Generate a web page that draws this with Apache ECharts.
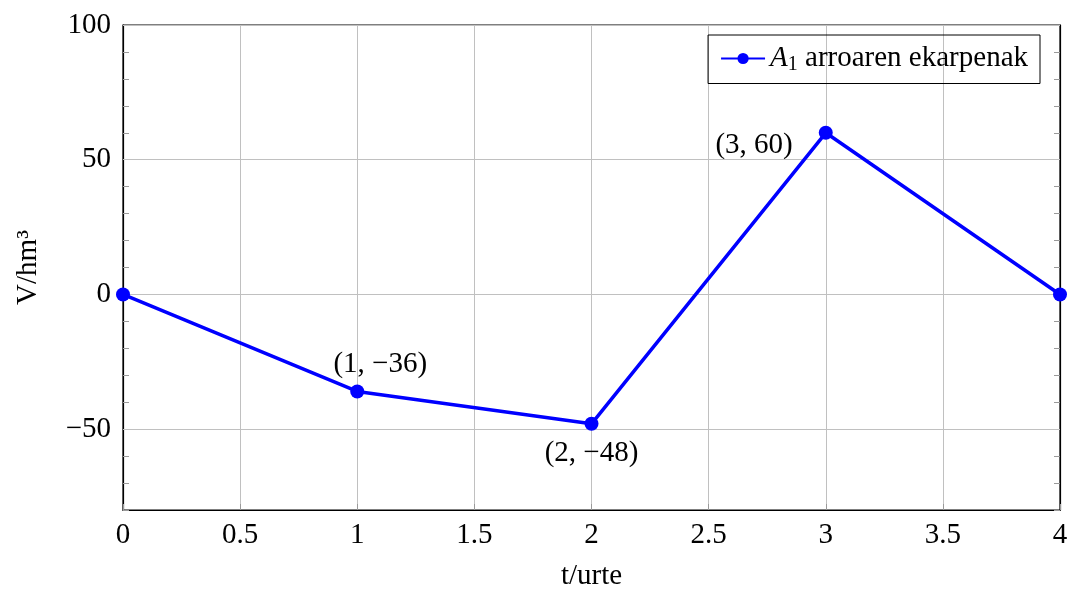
<!DOCTYPE html>
<html><head><meta charset="utf-8">
<script src="https://cdn.jsdelivr.net/npm/echarts@6/dist/echarts.min.js"></script>
<style>html,body{margin:0;padding:0;background:#fff}#c{width:1068px;height:591px}</style>
</head><body><div id="c"></div>
<script>
const tValues = [0, 1, 2, 3, 4];
const vValues = [0, -36, -48, 60, 0];
const yMajorTicks = [-50, 0, 50, 100];
const seriesName = 'A1 arroaren ekarpenak';
const xAxisName = 't/urte';
const yAxisName = 'V/hm³';

const FONT = 'Liberation Serif';
const FS = 29;
const minus = v => (v < 0 ? '−' + Math.abs(v) : String(v));
const labelCfg = {
  1: { position: 'top', offset: [23, 2] },
  2: { position: 'bottom', offset: [0, 0] },
  3: { position: 'left', offset: [-18, 13] }
};
const data = tValues.map((t, i) => {
  const d = { value: [t, vValues[i]] };
  if (labelCfg[i]) {
    d.label = Object.assign({ show: true, formatter: '(' + t + ', ' + minus(vValues[i]) + ')',
      fontFamily: FONT, fontSize: FS, color: '#000', distance: 8 }, labelCfg[i]);
  }
  return d;
});

const chart = echarts.init(document.getElementById('c'));
const tickStyle = { color: '#9a9a9a', width: 1 };
const axisFrame = { show: true, onZero: false, lineStyle: { color: '#000', width: 1.2 } };
chart.setOption({
  animation: false,
  textStyle: { fontFamily: FONT },
  grid: { left: 123, right: 8, top: 25, bottom: 81, show: true, borderColor: '#000', borderWidth: 1.2,
    containLabel: false, outerBoundsMode: 'none' },
  legend: {
    right: 28, top: 35, orient: 'horizontal',
    borderColor: '#000', borderWidth: 1, padding: [9, 12, 9, 12],
    itemWidth: 44, itemHeight: 14, itemGap: 8,
    formatter: () => '{a|A}{s|1} arroaren ekarpenak',
    textStyle: {
      fontFamily: FONT, fontSize: FS, color: '#000',
      rich: {
        a: { fontFamily: FONT, fontSize: FS, fontStyle: 'italic', color: '#000' },
        s: { fontFamily: FONT, fontSize: 20, color: '#000', padding: [12, 0, 0, 0] }
      }
    },
    data: [seriesName]
  },
  xAxis: {
    type: 'value', min: 0, max: 4, interval: 0.5,
    name: xAxisName, nameLocation: 'middle', nameGap: 52,
    nameTextStyle: { fontFamily: FONT, fontSize: FS, color: '#000' },
    axisLine: axisFrame,
    axisTick: { show: true, inside: true, length: 6, lineStyle: tickStyle },
    axisLabel: { fontFamily: FONT, fontSize: FS, color: '#000', margin: 11 },
    splitLine: { show: true, lineStyle: { color: '#c0c0c0', width: 1 } }
  },
  yAxis: [{
    type: 'value', min: -80, max: 100, interval: 10,
    name: yAxisName, nameLocation: 'middle', nameGap: 80, nameRotate: 90,
    nameTextStyle: { fontFamily: FONT, fontSize: FS, color: '#000' },
    axisLine: axisFrame,
    axisTick: { show: true, inside: true, length: 6, lineStyle: tickStyle },
    axisLabel: { fontFamily: FONT, fontSize: FS, color: '#000', margin: 12,
      formatter: v => (yMajorTicks.indexOf(v) >= 0 ? minus(v) : '') },
    splitLine: { show: false }
  }, {
    type: 'value', min: -80, max: 100, interval: 10, position: 'right',
    axisLine: axisFrame,
    axisTick: { show: true, inside: true, length: 6, lineStyle: tickStyle },
    axisLabel: { show: false },
    splitLine: { show: false }
  }],
  series: [{
    name: 'grid', type: 'line', data: [], z: 1, silent: true,
    markLine: {
      silent: true, symbol: 'none', animation: false,
      label: { show: false },
      lineStyle: { color: '#c0c0c0', width: 1, type: 'solid' },
      data: yMajorTicks.map(v => ({ yAxis: v }))
    }
  }, {
    name: seriesName, type: 'line', data: data,
    symbol: 'circle', symbolSize: 14,
    lineStyle: { color: '#0000ff', width: 3.5 },
    itemStyle: { color: '#0000ff' },
    z: 5
  }]
});
</script></body></html>
